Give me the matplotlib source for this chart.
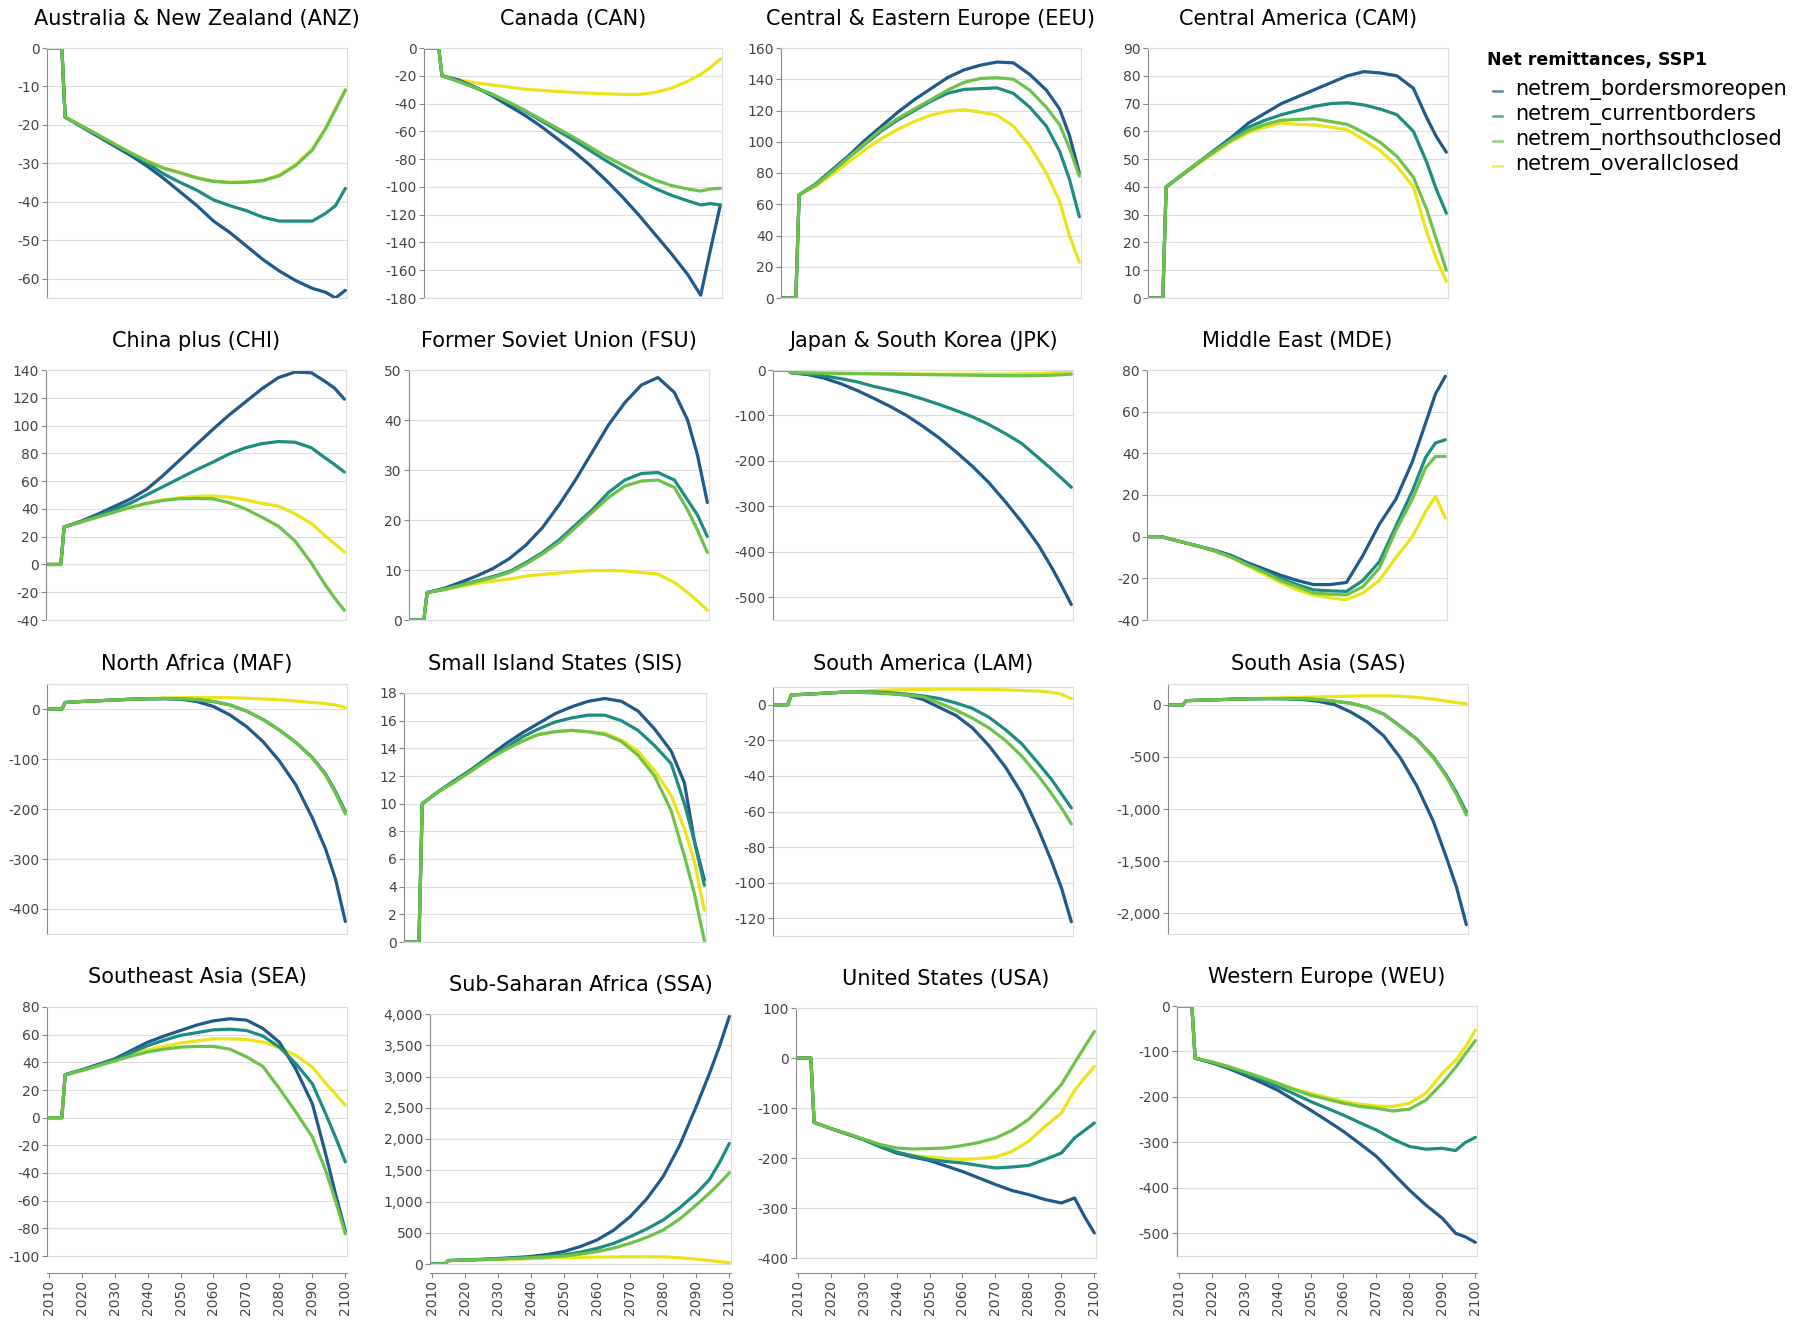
import numpy as np
import matplotlib
matplotlib.use('Agg')
import matplotlib.pyplot as plt
from matplotlib.lines import Line2D
from matplotlib.ticker import FuncFormatter

# years (data is flat 0 until 2014, then jumps)
YEARS = [2010, 2014, 2015, 2020, 2025, 2030, 2035, 2040, 2045, 2050, 2055,
         2060, 2065, 2070, 2075, 2080, 2085, 2090, 2094, 2097, 2100]

SERIES = ['netrem_bordersmoreopen', 'netrem_currentborders',
          'netrem_northsouthclosed', 'netrem_overallclosed']
COLORS = ['#1f5a8a', '#1e8c80', '#6cc24a', '#ebe41b']
LEGEND_TITLE = 'Net remittances, SSP1'

ANZ_OPEN = [0, 0, -18, -20.5, -23, -25.5, -28, -30.8, -34, -37.5, -41, -45, -48, -51.5, -55, -58, -60.5, -62.5, -63.5, -65, -63]
ANZ_CUR = [0, 0, -18, -20.3, -22.7, -25.2, -27.5, -30, -32.8, -35, -37, -39.5, -41, -42.3, -44, -45, -45, -45, -43, -41, -36.5]
ANZ_NS = [0, 0, -18, -20.3, -22.6, -25, -27.3, -29.5, -31.3, -32.5, -33.8, -34.7, -35, -34.9, -34.5, -33.2, -30.5, -26.5, -21, -16, -11]
ANZ_CLOSED = [0, 0, -18, -20.3, -22.6, -25, -27.3, -29.4, -31.2, -32.4, -33.7, -34.6, -34.9, -34.8, -34.4, -33, -30.3, -26.3, -20.8, -15.8, -10.8]

CAN_OPEN = [0, 0, -20, -23, -28, -34, -41, -48, -56, -65, -74, -84, -95, -107, -120, -134, -148, -163, -178, -145, -113]
CAN_CUR = [0, 0, -20, -24, -28.5, -33, -39, -45, -52, -59, -66, -73.5, -81, -88, -95, -101, -106, -110, -113, -112, -113]
CAN_NS = [0, 0, -20, -24, -28.5, -33, -38.5, -44.5, -51, -57.5, -64, -71, -78, -84, -90, -95, -99, -101.5, -103, -101.5, -101]
CAN_CLOSED = [0, 0, -20, -23, -25, -26.5, -28, -29.6, -30.5, -31.3, -32, -32.5, -33, -33.4, -33.5, -32, -29, -24, -19, -14, -8]

EEU_OPEN = [0, 0, 66, 73, 82, 91, 101, 110, 119, 127, 134, 141, 146, 149, 151, 150.5, 143, 133, 121, 104, 80]
EEU_CUR = [0, 0, 66, 72.5, 81, 90, 98.5, 107, 114, 120, 126, 131, 133.5, 134, 134.5, 131, 122, 110, 94, 76, 52]
EEU_NS = [0, 0, 66, 72.5, 81, 90, 99, 108, 115, 121, 127, 133, 138, 140.5, 141, 140, 133, 122, 111, 96, 78]
EEU_CLOSED = [0, 0, 66, 71.5, 79, 87, 95, 102, 108, 113, 117, 119.5, 120.5, 119, 117, 110, 97, 80, 62, 40, 23]

CAM_OPEN = [0, 0, 40, 44.5, 49, 53.5, 58, 63, 66.5, 70, 72.5, 75, 77.5, 80, 81.5, 81, 80, 75.5, 65, 58, 52.5]
CAM_CUR = [0, 0, 40, 44.5, 49, 53.3, 57.5, 61.5, 64, 66, 67.5, 69, 70, 70.3, 69.5, 68, 66, 60, 49, 39, 30.5]
CAM_NS = [0, 0, 40, 44.5, 49, 53, 57, 60.3, 62.5, 64, 64.3, 64.5, 63.5, 62.5, 59.5, 56, 51, 43.5, 32, 21, 10]
CAM_CLOSED = [0, 0, 40, 44.3, 48.5, 52.5, 56.5, 59.5, 61.5, 63, 62.5, 62.3, 61.5, 60.5, 57, 53, 47.5, 40, 24, 14, 6]

CHI_OPEN = [0, 0, 27, 31, 36, 41.5, 47, 54, 64, 75, 86, 97, 107.5, 117, 126.5, 134.5, 138.5, 138, 132, 127, 119]
CHI_CUR = [0, 0, 27, 30.5, 35, 39.5, 44, 50, 56, 62, 68, 73.5, 79.5, 84, 87, 88.5, 88, 84, 77, 72, 66.5]
CHI_NS = [0, 0, 27, 30.5, 34, 37.5, 41, 44, 46, 47.3, 47.5, 47.3, 44.5, 40, 34, 27.5, 17, 1, -14, -24, -33]
CHI_CLOSED = [0, 0, 27, 30.5, 34, 37.5, 41, 44, 46.5, 48, 49, 49.3, 48.5, 46.5, 44, 42, 36.5, 29.5, 21, 15, 9]

FSU_OPEN = [0, 0, 5.5, 6.3, 7.5, 8.8, 10.3, 12.3, 15, 18.5, 23, 28, 33.5, 39, 43.5, 47, 48.5, 45.5, 40, 33, 23.5]
FSU_CUR = [0, 0, 5.5, 6.1, 7, 7.8, 8.7, 9.7, 11.5, 13.5, 16, 19, 22, 25.5, 28, 29.3, 29.5, 28, 24, 21, 16.7]
FSU_NS = [0, 0, 5.5, 6.1, 6.9, 7.7, 8.5, 9.5, 11.2, 13.2, 15.5, 18.5, 21.5, 24.5, 26.8, 27.8, 28, 26.5, 22, 18, 13.5]
FSU_CLOSED = [0, 0, 5.5, 6, 6.7, 7.3, 7.8, 8.2, 8.8, 9.1, 9.4, 9.7, 9.9, 9.9, 9.8, 9.5, 9.2, 7.5, 5.5, 3.8, 2]

JPK_OPEN = [0, 0, -6, -10, -18, -30, -45, -62, -80, -100, -124, -150, -180, -212, -248, -290, -335, -385, -434, -474, -516]
JPK_CUR = [0, 0, -6, -9, -13, -19, -26, -36, -44, -53, -64, -76, -89, -103, -120, -140, -162, -193, -218, -238, -258]
JPK_NS = [0, 0, -6, -6.5, -7, -7.5, -8, -8.5, -9, -9.5, -10, -10.5, -11, -11.5, -12, -12.5, -12.5, -12, -11.5, -10.5, -9]
JPK_CLOSED = [0, 0, -6, -6.5, -7, -7.3, -7.6, -8, -8.3, -8.5, -8.7, -9, -9, -9, -9, -9, -8.5, -8, -6, -4, -2]

MDE_OPEN = [0, 0, -0.5, -2.5, -4.5, -6.5, -9, -12.5, -15.5, -18.5, -21, -23, -23, -22, -9, 6, 18, 36, 54.5, 68.5, 77]
MDE_CUR = [0, 0, -0.5, -2.5, -4.5, -6.7, -9.5, -13, -16.5, -20, -23, -25.5, -26, -26.3, -21, -12, 5, 22, 38, 45, 46.5]
MDE_NS = [0, 0, -0.5, -2.5, -4.5, -6.8, -9.8, -13.5, -17, -21, -24, -27, -27.6, -28, -24, -15, 3, 18, 33, 38.5, 38.5]
MDE_CLOSED = [0, 0, -0.5, -2.5, -4.7, -7, -10, -14, -18, -22, -25.5, -28, -29.3, -30.3, -27, -21, -10, 0, 12, 19.5, 9]

MAF_OPEN = [0, 0, 13, 15, 16.5, 18, 19.5, 20.5, 20.5, 19.5, 15, 5, -12, -35, -65, -104, -152, -218, -280, -340, -425]
MAF_CUR = [0, 0, 13, 15, 16.5, 18, 19.5, 20.5, 21, 20.5, 18.5, 15, 8, -4, -21, -42, -67, -97, -130, -165, -205]
MAF_NS = [0, 0, 13, 15, 16.5, 18, 19.5, 20.5, 21, 20.5, 18.5, 15, 8, -4, -21, -42, -67, -98, -132, -168, -210]
MAF_CLOSED = [0, 0, 13, 15, 16.5, 18, 19.5, 21, 22, 22.5, 23, 23, 22.5, 21.5, 20, 18.5, 16, 13, 11, 8, 3]

SIS_OPEN = [0, 0, 10, 10.9, 11.7, 12.5, 13.4, 14.3, 15.1, 15.8, 16.5, 17, 17.4, 17.6, 17.4, 16.7, 15.4, 13.8, 11.5, 7.3, 4.5]
SIS_CUR = [0, 0, 10, 10.9, 11.7, 12.5, 13.3, 14, 14.8, 15.4, 15.9, 16.2, 16.4, 16.4, 16, 15.3, 14.2, 12.9, 10, 7.3, 4.1]
SIS_NS = [0, 0, 10, 10.9, 11.6, 12.4, 13.2, 13.9, 14.5, 15, 15.2, 15.3, 15.2, 15, 14.5, 13.5, 12, 9.5, 6.2, 3.5, 0.1]
SIS_CLOSED = [0, 0, 10, 10.9, 11.6, 12.4, 13.2, 13.9, 14.5, 15, 15.2, 15.3, 15.2, 15.1, 14.6, 13.8, 12.4, 10.6, 8.2, 5.8, 2.3]

LAM_OPEN = [0, 0, 5.5, 6, 6.5, 7, 7, 6.8, 6.3, 5.5, 3, -1.5, -6, -13, -23, -35, -50, -70, -88, -103, -122]
LAM_CUR = [0, 0, 5.5, 6, 6.5, 7, 7.2, 7.2, 6.8, 6, 5, 3.5, 1, -2, -7, -14, -22, -33, -42, -50, -58]
LAM_NS = [0, 0, 5.5, 6, 6.5, 7, 7, 6.8, 6.3, 5.5, 4.5, 1, -3, -7.5, -13, -20, -29, -40, -50, -58, -67]
LAM_CLOSED = [0, 0, 5.5, 6, 6.5, 7, 7.5, 8, 8.3, 8.5, 8.6, 8.8, 8.8, 8.7, 8.6, 8.4, 8, 7.8, 7, 6, 3.4]

SAS_OPEN = [0, 0, 40, 45, 50, 55, 58, 60, 58, 52, 35, 2, -70, -165, -300, -510, -780, -1120, -1470, -1750, -2110]
SAS_CUR = [0, 0, 40, 45, 50, 55, 58, 60, 60, 58, 50, 35, 15, -25, -90, -205, -330, -500, -680, -840, -1030]
SAS_NS = [0, 0, 40, 45, 50, 55, 58, 60, 60, 58, 50, 35, 15, -25, -90, -208, -335, -508, -692, -858, -1058]
SAS_CLOSED = [0, 0, 40, 45, 50, 55, 60, 64, 68, 72, 76, 80, 84, 86, 86, 82, 72, 55, 36, 22, 10]

SEA_OPEN = [0, 0, 31, 34.5, 38.5, 42.5, 48.5, 54.5, 59, 63, 67, 70, 71.5, 70.5, 64.5, 54.5, 35, 10, -26, -55, -82]
SEA_CUR = [0, 0, 31, 34.5, 38, 42, 47, 52, 56, 59.5, 61.5, 63.5, 64, 63, 59, 51, 39, 24.5, 3, -14, -32]
SEA_NS = [0, 0, 31, 34, 37.5, 41, 44.5, 47.5, 49.5, 51, 51.5, 51.5, 49.5, 44, 37, 21, 4, -14, -38, -60, -84]
SEA_CLOSED = [0, 0, 31, 34, 37.5, 41.4, 45.5, 49, 51.5, 54, 55.5, 57, 57, 56.5, 54.7, 50.5, 45, 36.6, 25, 17, 9]

SSA_OPEN = [0, 0, 55, 65, 75, 88, 102, 120, 152, 200, 280, 385, 540, 757, 1040, 1400, 1900, 2520, 3050, 3480, 3960]
SSA_CUR = [0, 0, 55, 63, 72, 82, 93, 107, 125, 145, 190, 250, 330, 437, 560, 704, 900, 1130, 1352, 1620, 1930]
SSA_NS = [0, 0, 55, 62, 70, 79, 89, 100, 113, 128, 160, 197, 255, 331, 425, 544, 720, 944, 1135, 1290, 1460]
SSA_CLOSED = [0, 0, 55, 60, 66, 72, 79, 86, 93, 100, 106, 111, 114, 116, 117, 115, 100, 78, 55, 38, 20]

USA_OPEN = [0, 0, -129, -141, -152, -163, -177, -190, -198, -205, -216, -227, -240, -253, -265, -273, -283, -290, -280, -317, -350]
USA_CUR = [0, 0, -129, -141, -152, -163, -177, -188, -196, -203, -207, -210, -215, -220, -218, -215, -203, -190, -160, -145, -130]
USA_NS = [0, 0, -129, -141, -151, -162, -173, -180, -182, -181, -180, -175, -169, -160, -145, -123, -90, -53, -10, 22, 53]
USA_CLOSED = [0, 0, -129, -141, -152, -163, -178, -190, -195, -198, -201, -203, -201, -198, -187, -167, -137, -110, -65, -40, -17]

WEU_OPEN = [0, 0, -115, -125, -137, -152, -168, -185, -207, -229, -252, -276, -303, -331, -368, -405, -438, -467, -500, -508, -520]
WEU_CUR = [0, 0, -115, -124, -135, -148, -162, -177, -193, -210, -225, -240, -257, -273, -293, -309, -315, -313, -318, -300, -289]
WEU_NS = [0, 0, -115, -123, -133, -145, -157, -170, -184, -196, -205, -214, -221, -225, -231, -227, -207, -170, -135, -105, -76]
WEU_CLOSED = [0, 0, -115, -123, -133, -145, -157, -169, -182, -192, -201, -210, -216, -220, -221, -214, -192, -148, -120, -90, -53]

TITLES = ['Australia & New Zealand (ANZ)', 'Canada (CAN)', 'Central & Eastern Europe (EEU)', 'Central America (CAM)',
          'China plus (CHI)', 'Former Soviet Union (FSU)', 'Japan & South Korea (JPK)', 'Middle East (MDE)',
          'North Africa (MAF)', 'Small Island States (SIS)', 'South America (LAM)', 'South Asia (SAS)',
          'Southeast Asia (SEA)', 'Sub-Saharan Africa (SSA)', 'United States (USA)', 'Western Europe (WEU)']

REGION_LINES = [
    [ANZ_OPEN, ANZ_CUR, ANZ_NS, ANZ_CLOSED], [CAN_OPEN, CAN_CUR, CAN_NS, CAN_CLOSED],
    [EEU_OPEN, EEU_CUR, EEU_NS, EEU_CLOSED], [CAM_OPEN, CAM_CUR, CAM_NS, CAM_CLOSED],
    [CHI_OPEN, CHI_CUR, CHI_NS, CHI_CLOSED], [FSU_OPEN, FSU_CUR, FSU_NS, FSU_CLOSED],
    [JPK_OPEN, JPK_CUR, JPK_NS, JPK_CLOSED], [MDE_OPEN, MDE_CUR, MDE_NS, MDE_CLOSED],
    [MAF_OPEN, MAF_CUR, MAF_NS, MAF_CLOSED], [SIS_OPEN, SIS_CUR, SIS_NS, SIS_CLOSED],
    [LAM_OPEN, LAM_CUR, LAM_NS, LAM_CLOSED], [SAS_OPEN, SAS_CUR, SAS_NS, SAS_CLOSED],
    [SEA_OPEN, SEA_CUR, SEA_NS, SEA_CLOSED], [SSA_OPEN, SSA_CUR, SSA_NS, SSA_CLOSED],
    [USA_OPEN, USA_CUR, USA_NS, USA_CLOSED], [WEU_OPEN, WEU_CUR, WEU_NS, WEU_CLOSED],
]

# y domain (min, max, tick step) for each panel
Y_SCALES = [(-65, 0, 10), (-180, 0, 20), (0, 160, 20), (0, 90, 10),
            (-40, 140, 20), (0, 50, 10), (-550, 0, 100), (-40, 80, 20),
            (-450, 50, 100), (0, 18, 2), (-130, 10, 20), (-2200, 200, 500),
            (-100, 80, 20), (0, 4000, 500), (-400, 100, 100), (-550, 0, 100)]

# plot boxes in pixels: left, top, right, bottom
BOXES = [(47, 48, 347, 298), (424, 48, 722, 298), (781, 48, 1081, 298), (1148, 48, 1448, 298),
         (46, 370, 346, 620), (409, 370, 709, 620), (773, 370, 1073, 620), (1147, 370, 1447, 620),
         (47, 684, 347, 934), (404, 693, 706, 942), (773, 687, 1073, 936), (1168, 684, 1468, 934),
         (47, 1007, 347, 1256), (430, 1014, 731, 1264), (796, 1008, 1096, 1258), (1177, 1006, 1477, 1256)]
# title baselines in pixels
TITLE_Y = [25, 25, 25, 25, 347, 347, 347, 347, 670, 670, 670, 670, 983, 991, 985, 983]
XAXIS_Y = 1273

W, H = 1796, 1321
plt.rcParams['font.family'] = ['DejaVu Sans']

fig = plt.figure(figsize=(W / 100, H / 100), dpi=100)
fig.patch.set_facecolor('white')

drawOrder = [3, 0, 1, 2]
fmt = FuncFormatter(lambda v, p: '{:,}'.format(int(round(v))))

for i, title in enumerate(TITLES):
    x0, top, x1, bottom = BOXES[i]
    ax = fig.add_axes([x0 / W, 1 - bottom / H, (x1 - x0) / W, (bottom - top) / H])
    lines = REGION_LINES[i]
    for k in drawOrder:
        ax.plot(YEARS, lines[k], color=COLORS[k], lw=2.3, solid_joinstyle='round', solid_capstyle='round')

    ymin, ymax, step = Y_SCALES[i]
    ax.set_xlim(2009.5, 2100.5)
    ax.set_ylim(ymin, ymax)
    ticks = np.arange(np.ceil(ymin / step) * step, ymax + step / 2, step)
    ax.set_yticks(ticks)
    ax.yaxis.set_major_formatter(fmt)
    ax.set_axisbelow(True)
    ax.yaxis.grid(True, color='#dddddd', lw=0.8)

    for s in ['top', 'right', 'bottom']:
        ax.spines[s].set_color('#dddddd')
        ax.spines[s].set_linewidth(0.8)
    ax.spines['left'].set_color('#888888')
    ax.spines['left'].set_linewidth(0.8)
    ax.tick_params(axis='y', length=3.6, width=0.8, color='#888888', pad=1.5,
                   labelsize=10, labelcolor='#444444')

    if i >= 12:
        # bottom row gets a detached year axis
        ax.spines['bottom'].set_position(('outward', (XAXIS_Y - bottom) * 0.72))
        ax.spines['bottom'].set_color('#888888')
        ax.plot([0, 1], [0, 0], transform=ax.transAxes, color='#dddddd', lw=0.8, clip_on=False)
        years = list(range(2010, 2101, 10))
        ax.set_xticks(years)
        ax.set_xticklabels([str(y) for y in years], rotation=90)
        ax.tick_params(axis='x', length=3.6, width=0.8, color='#888888', pad=1.5,
                       labelsize=10, labelcolor='#444444')
    else:
        ax.tick_params(axis='x', bottom=False, labelbottom=False)

    fig.text((x0 + x1) / 2 / W, 1 - TITLE_Y[i] / H, title, ha='center', va='baseline', fontsize=15)

# legend
fig.text(1487 / W, 1 - 65 / H, LEGEND_TITLE, ha='left', va='baseline', fontsize=12.5, fontweight='bold')
for k, name in enumerate(SERIES):
    base = 95 + 25 * k
    fig.add_artist(Line2D([1493 / W, 1502 / W], [1 - (base - 4) / H, 1 - (base - 4) / H],
                          transform=fig.transFigure, color=COLORS[k], lw=1.8, alpha=0.75))
    fig.text(1515 / W, 1 - base / H, name, ha='left', va='baseline', fontsize=15)

fig.savefig('out.png', dpi=100, facecolor='white')
